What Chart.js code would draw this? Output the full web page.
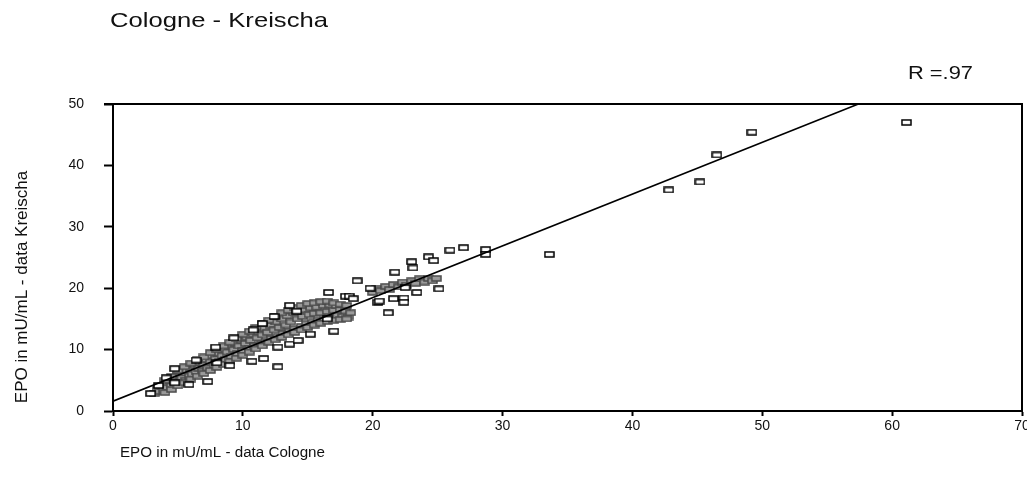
<!DOCTYPE html>
<html>
<head>
<meta charset="utf-8">
<script src="https://cdn.jsdelivr.net/npm/chart.js@4/dist/chart.umd.min.js"></script>
<style>
  html, body { margin: 0; padding: 0; background: #fff; }
  #wrap { width: 1027px; height: 481px; }
</style>
</head>
<body>
<div id="wrap"><canvas id="epoChart" width="1027" height="481"></canvas></div>
<script>
// Single, clearly visible samples (Cologne, Kreischa)
const soloX = [2.9, 3.5, 4.1, 4.75, 4.75, 5.85, 6.4, 7.3, 7.9, 8.0, 9.0, 9.3, 10.7, 10.8, 11.5, 11.6,
  12.4, 12.7, 12.7, 13.6, 13.6, 14.15, 14.25, 15.2, 16.5, 16.6, 17.0, 17.9, 18.2, 18.5, 18.8, 19.8,
  20.4, 20.5, 21.2, 21.6, 21.7, 22.4, 22.4, 22.5, 23.0, 23.1, 23.4, 25.1, 24.3, 24.7, 25.95, 27.0,
  28.7, 28.7, 33.6, 42.8, 45.2, 46.5, 49.2, 61.1];
const soloY = [2.85, 4.15, 5.4, 6.9, 4.6, 4.3, 8.3, 4.8, 10.4, 7.85, 7.4, 11.9, 8.1, 13.2, 14.25, 8.55,
  15.4, 7.2, 10.4, 10.9, 17.2, 16.25, 11.5, 12.5, 15.0, 19.3, 13.0, 18.7, 18.7, 18.3, 21.2, 20.0,
  17.7, 17.9, 16.0, 18.3, 22.6, 18.4, 17.7, 20.1, 24.3, 23.3, 19.3, 19.9, 25.1, 24.5, 26.2, 26.6,
  26.3, 25.5, 25.5, 36.0, 37.3, 41.7, 45.4, 47.0];

// Dense overlapping samples (the grey band)
const denseX = [3.2, 3.4, 3.6, 3.8, 3.9, 4.1, 4.2, 4.4, 4.5, 4.7, 4.8, 5.0, 5.1, 5.3, 5.4, 5.6, 5.7, 5.9,
  6.0, 6.1, 6.3, 6.4, 6.6, 6.7, 6.9, 7.0, 7.2, 7.3, 7.5, 7.6, 7.8, 7.9,
  8.1, 8.2, 8.4, 8.5, 8.7, 8.8, 9.0, 9.1, 9.3, 9.4, 9.6, 9.7, 9.9,
  10.0, 10.2, 10.3, 10.5, 10.6, 10.8, 10.9, 11.1, 11.2, 11.4, 11.5, 11.7, 11.8, 11.9,
  12.1, 12.2, 12.4, 12.5, 12.7, 12.8, 13.0, 13.1, 13.3, 13.4, 13.6, 13.7, 13.9,
  14.0, 14.2, 14.3, 14.5, 14.6, 14.8, 14.9, 15.1, 15.2, 15.4, 15.5, 15.7, 15.8,
  16.0, 16.2, 16.3, 16.5, 16.7, 16.8, 17.0, 17.2, 17.3, 17.5, 17.7, 17.9, 18.1, 18.3,
  20.0, 20.3, 20.6, 21.0, 21.3, 21.6, 22.0, 22.3, 22.6, 23.0, 23.3, 23.6, 24.0, 24.3, 24.6, 24.9,
  // upper edge of the band
  4.0, 4.5, 5.0, 5.5, 6.0, 6.5, 7.0, 7.5, 8.0, 8.5, 9.0, 9.5, 10.0, 10.5, 11.0, 11.5,
  12.0, 12.5, 13.0, 13.5, 14.0, 14.5, 15.0, 15.5, 16.0, 16.5, 17.0, 17.5, 18.0,
  // lower edge of the band
  4.0, 4.5, 5.0, 5.5, 6.0, 6.5, 7.0, 7.5, 8.0, 8.5, 9.0, 9.5, 10.0, 10.5, 11.0, 11.5,
  12.0, 12.5, 13.0, 13.5, 14.0, 14.5, 15.0, 15.5, 16.0, 16.5, 17.0, 17.5, 18.0];
const denseY = [2.9, 3.6, 3.2, 4.0, 3.4, 4.4, 3.8, 4.9, 4.1, 5.3, 4.6, 5.8, 4.9, 5.4, 6.2, 5.0, 6.6, 5.7,
  6.9, 6.0, 7.4, 6.4, 7.0, 7.9, 6.5, 7.5, 8.4, 7.0, 8.0, 9.0, 7.4, 8.5,
  9.4, 8.0, 9.0, 10.0, 8.4, 9.6, 10.5, 8.9, 10.0, 11.0, 9.3, 10.6, 11.5,
  9.8, 11.0, 12.0, 10.2, 11.5, 12.5, 10.6, 11.9, 13.0, 11.0, 12.4, 13.5, 11.4, 12.8,
  14.0, 11.8, 13.2, 14.5, 12.2, 13.6, 15.0, 12.6, 14.0, 15.5, 13.0, 14.5, 16.0,
  13.4, 15.0, 16.3, 13.8, 15.4, 16.5, 14.2, 15.7, 16.8, 14.5, 15.9, 16.9, 14.8,
  16.0, 17.2, 15.0, 16.2, 17.3, 15.3, 16.4, 17.2, 15.6, 16.5, 15.4, 16.3, 15.3, 16.0,
  19.3, 20.0, 19.6, 20.3, 19.8, 20.6, 20.2, 21.0, 20.5, 21.2, 20.8, 21.5, 21.0, 21.6, 21.2, 21.6,
  5.0, 5.6, 6.6, 7.2, 7.8, 8.4, 8.8, 9.5, 10.0, 10.6, 11.2, 11.8, 12.5, 13.0, 13.6, 14.2,
  14.8, 15.4, 16.0, 16.4, 16.8, 17.2, 17.5, 17.6, 17.8, 17.9, 17.6, 17.4, 17.2,
  3.0, 3.5, 4.1, 4.6, 5.2, 5.7, 6.1, 6.6, 7.1, 7.6, 8.1, 8.6, 9.1, 9.6, 10.1, 10.6,
  11.2, 11.6, 12.0, 12.4, 12.8, 13.2, 13.6, 14.0, 14.3, 14.6, 14.8, 14.9, 15.0];

// Regression line end points
const fitX = [0, 57.4];
const fitY = [1.6, 50];

const xTicks = [0, 10, 20, 30, 40, 50, 60, 70];
const yTicks = [0, 10, 20, 30, 40, 50];

function toPoints(xs, ys) {
  return xs.map((x, i) => ({ x: x, y: ys[i] }));
}

// small hollow box used as marker
function makeBox(stroke, fill) {
  const c = document.createElement("canvas");
  c.width = 11;
  c.height = 7;
  const g = c.getContext("2d");
  g.fillStyle = fill;
  g.fillRect(1, 1, 9, 5);
  g.strokeStyle = stroke;
  g.lineWidth = 1.5;
  g.strokeRect(1, 1, 9, 5);
  return c;
}

const boxSolo = makeBox("#000", "#fff");
const boxDense = makeBox("#4a4a4a", "#9a9a9a");

const FONT = "'Liberation Sans', Arial, sans-serif";

// text squeezed/stretched to the width seen in the scan
function stretchText(ctx, text, x, y, size, width) {
  ctx.font = size + "px " + FONT;
  const w = ctx.measureText(text).width;
  ctx.save();
  ctx.translate(x, y);
  ctx.scale(width / w, 1);
  ctx.fillText(text, 0, 0);
  ctx.restore();
}

// frame + titles
const decor = {
  id: "decor",
  afterDraw(chart) {
    const { ctx, chartArea: a } = chart;
    ctx.save();
    ctx.strokeStyle = "#000";
    ctx.lineWidth = 2;
    ctx.beginPath();
    ctx.moveTo(a.left - 9, a.top);
    ctx.lineTo(a.right, a.top);
    ctx.lineTo(a.right, a.bottom);
    ctx.stroke();

    ctx.fillStyle = "#111";
    ctx.textBaseline = "middle";
    ctx.textAlign = "left";
    stretchText(ctx, "Cologne - Kreischa", 110, 21, 21, 218);
    stretchText(ctx, "R =.97", 908, 74, 18, 65);
    stretchText(ctx, "EPO in mU/mL - data Cologne", 120, 453, 14, 205);

    ctx.translate(22, 287);
    ctx.rotate(-Math.PI / 2);
    ctx.textAlign = "center";
    ctx.font = "17px " + FONT;
    ctx.fillText("EPO in mU/mL - data Kreischa", 0, 0);
    ctx.restore();
  },
};

const ctx = document.getElementById("epoChart").getContext("2d");
new Chart(ctx, {
  data: {
    datasets: [
      {
        type: "scatter",
        label: "dense",
        data: toPoints(denseX, denseY),
        pointStyle: boxDense,
        order: 3,
      },
      {
        type: "scatter",
        label: "samples",
        data: toPoints(soloX, soloY),
        pointStyle: boxSolo,
        order: 2,
      },
      {
        type: "line",
        label: "fit",
        data: toPoints(fitX, fitY),
        borderColor: "#000",
        borderWidth: 1.6,
        pointRadius: 0,
        fill: false,
        order: 1,
      },
    ],
  },
  options: {
    responsive: false,
    animation: false,
    layout: { padding: { left: 0, right: -3, top: 104, bottom: 0 } },
    plugins: {
      legend: { display: false },
      title: { display: false },
      tooltip: { enabled: false },
    },
    scales: {
      x: {
        type: "linear",
        min: 0,
        max: 70,
        afterBuildTicks: (s) => { s.ticks = xTicks.map((v) => ({ value: v })); },
        afterFit: (s) => { s.height = 70; s.paddingLeft = 0; s.paddingRight = 0; },
        grid: { drawOnChartArea: false, tickLength: 5, tickColor: "#000", tickWidth: 2 },
        border: { color: "#000", width: 2 },
        ticks: { color: "#111", font: { family: FONT, size: 14 }, padding: 2, maxRotation: 0 },
      },
      y: {
        type: "linear",
        min: 0,
        max: 50,
        afterBuildTicks: (s) => { s.ticks = yTicks.map((v) => ({ value: v })); },
        afterFit: (s) => { s.width = 113; s.paddingTop = 0; s.paddingBottom = 0; },
        grid: { drawOnChartArea: false, tickLength: 9, tickColor: "#000", tickWidth: 2 },
        border: { color: "#000", width: 2 },
        ticks: { color: "#111", font: { family: FONT, size: 14 }, padding: 20 },
      },
    },
  },
  plugins: [decor],
});
</script>
</body>
</html>
